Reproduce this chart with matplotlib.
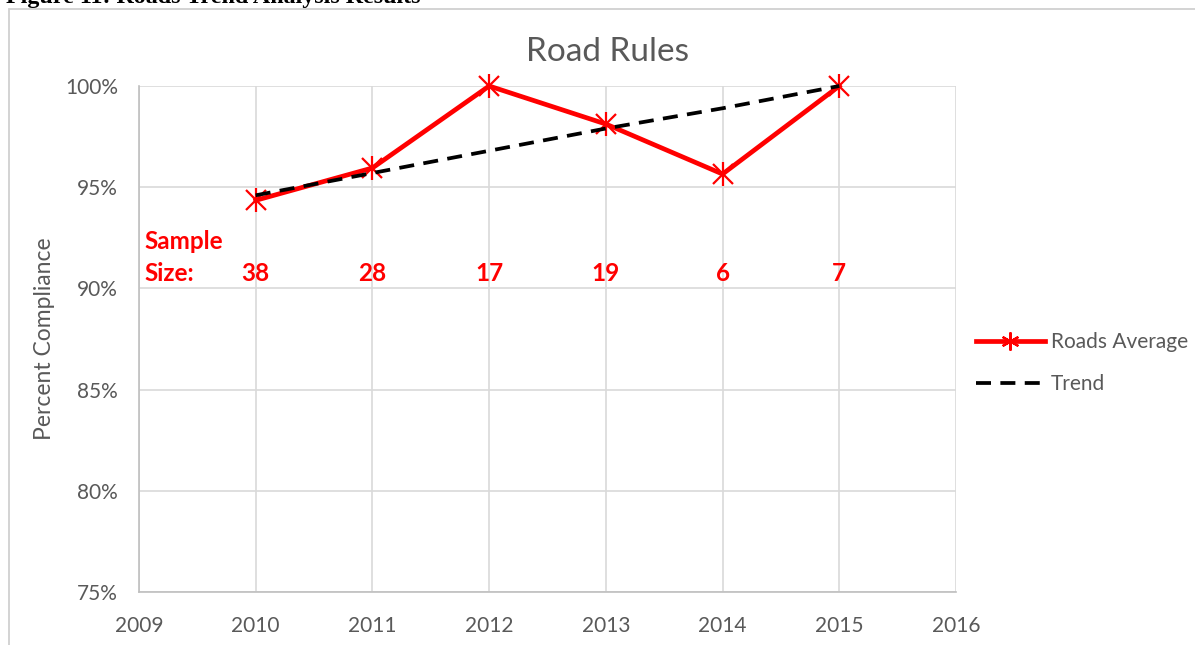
import matplotlib
matplotlib.use("Agg")
import matplotlib.pyplot as plt
from matplotlib.lines import Line2D
from matplotlib.patches import Rectangle

years = [2010, 2011, 2012, 2013, 2014, 2015]
roads_average = [94.35, 95.95, 100.0, 98.12, 95.65, 100.0]
trend = [94.6, 95.7, 96.8, 97.9, 98.9, 100.0]
sample_sizes = [38, 28, 17, 19, 6, 7]
x_ticks = [2009, 2010, 2011, 2012, 2013, 2014, 2015, 2016]
y_ticks = [75, 80, 85, 90, 95, 100]

plt.rcParams['font.family'] = ['Lato', 'DejaVu Sans']
gray = '#595959'
red = '#ff0000'

fig = plt.figure(figsize=(11.95, 6.45), dpi=100)
# outer chart border
fig.patches.append(Rectangle((9/1195, -0.1), 1.2, 1 - 9/645 + 0.1, transform=fig.transFigure,
                             fill=False, edgecolor='#d0d0d0', linewidth=1.3))
# cut-off caption (only its lower part is visible in the reference)
fig.text(6/1195, 1 - 3/645, 'Figure 11: Roads Trend Analysis Results', family='Liberation Serif',
         weight='bold', fontsize=17.3, va='baseline', ha='left', color='black')

ax = fig.add_axes([139/1195, 1 - 592/645, (956 - 139)/1195, (592 - 86)/645])
ax.set_xlim(2009, 2016)
ax.set_ylim(75, 100)
ax.set_xticks(x_ticks)
ax.set_yticks(y_ticks)
ax.set_yticklabels([f'{v}%' for v in y_ticks])
ax.grid(True, color='#d9d9d9', linewidth=1.2)
ax.set_axisbelow(True)
for s in ['top', 'right']:
    ax.spines[s].set_visible(False)
for s in ['left', 'bottom']:
    ax.spines[s].set_color('#bfbfbf')
    ax.spines[s].set_linewidth(1.2)
ax.tick_params(length=0, labelsize=15, colors=gray)
ax.tick_params(axis='x', pad=17)
ax.tick_params(axis='y', pad=15)

ax.plot(years, roads_average, color=red, linewidth=3.4, marker='x', markersize=15,
        markeredgewidth=1.6, clip_on=False, zorder=3)
ax.plot(years, roads_average, linestyle='none', color=red, marker='|', markersize=17,
        markeredgewidth=1.6, clip_on=False, zorder=3)
ax.plot(years, trend, color='black', linewidth=2.7, linestyle=(0, (4, 2.5)), clip_on=False, zorder=4)

fig.text(608/1195, 1 - 52/645, 'Road Rules', fontsize=24, color=gray, ha='center', va='center')
ax.set_ylabel('Percent Compliance', fontsize=16.5, color=gray, labelpad=7)

# sample sizes
ax.text(2009.05, 92.3, 'Sample', color=red, fontsize=17.5, weight='bold', ha='left', va='center')
ax.text(2009.05, 90.75, 'Size:', color=red, fontsize=17.5, weight='bold', ha='left', va='center')
for yr, n in zip(years, sample_sizes):
    ax.text(yr, 90.75, str(n), color=red, fontsize=17.5, weight='bold', ha='center', va='center')

# legend
handles = [Line2D([0], [0], color=red, linewidth=3.4, marker=(6, 2, 0), markersize=13,
                  markeredgewidth=1.6),
           Line2D([0], [0], color='black', linewidth=2.7, linestyle=(0, (4, 2.5)))]
leg = fig.legend(handles, ['Roads Average', 'Trend'], loc='center left',
                 bbox_to_anchor=(976/1195, 1 - 363/645), frameon=False, fontsize=15,
                 handlelength=3.3, handletextpad=0.3, labelspacing=1.05, labelcolor=gray,
                 borderpad=0.0, borderaxespad=0.0)

fig.savefig('out.png', dpi=100)
